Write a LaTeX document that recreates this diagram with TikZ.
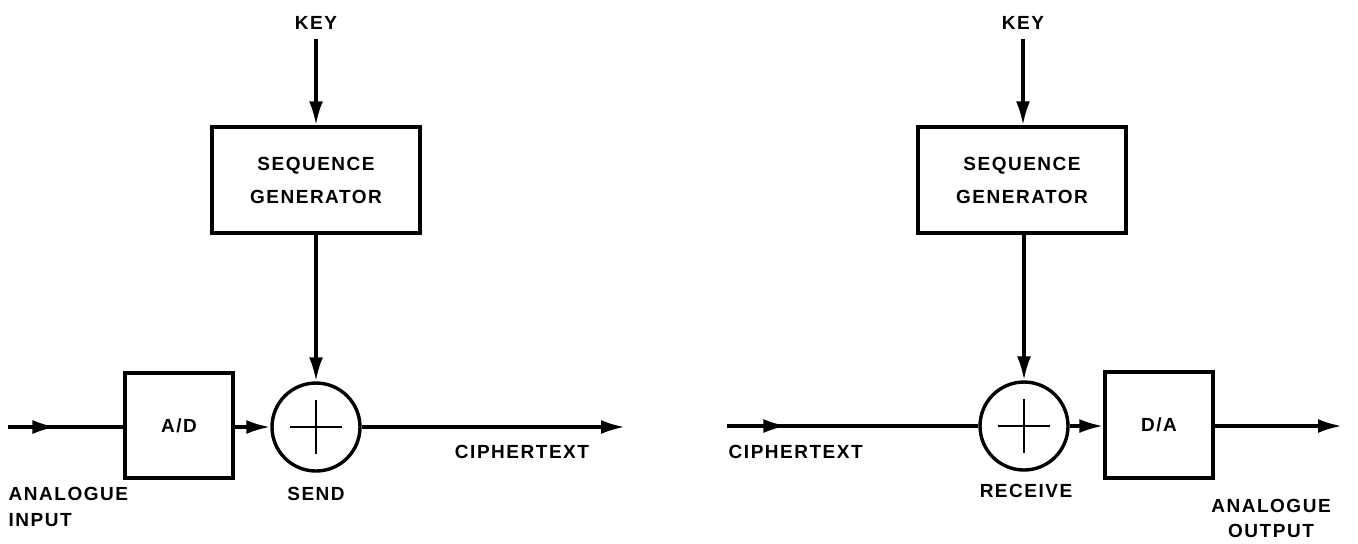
\documentclass[tikz,border=0pt]{standalone}
\usepackage{fontspec}
\setmainfont{Liberation Sans}[LetterSpace=8]
\usetikzlibrary{arrows.meta,decorations.markings}
\begin{document}
\begin{tikzpicture}[x=0.5pt,y=-0.5pt,
  line width=1.7pt,
  >={Latex[length=12pt,width=7pt]},
  box/.style={draw,rectangle,line width=1.7pt,inner sep=0pt,minimum width=#1},
  box/.default=104pt,
  sumnode/.style={draw,circle,minimum size=44pt,inner sep=0pt},
  lbl/.style={font=\fontsize{9.5}{13}\bfseries\selectfont,inner sep=0pt},
  boxlbl/.style={font=\fontsize{9.5}{16.5}\bfseries\selectfont,align=center},
  midarrow/.style={postaction={decorate},decoration={markings,mark=at position #1 with {\arrow{>}}}},
  cross/.style={line width=1.4pt},
]
\useasboundingbox (0,0) rectangle (1358,543);

% ---------- sender ----------
\node[lbl,anchor=base] (key1) at (316,29) {KEY};
\node[box,minimum height=53pt,boxlbl] (seq1) at (316,180) {SEQUENCE\\GENERATOR};
\node[sumnode] (sum1) at (316,427) {};
\draw[cross] ([xshift=-13pt]sum1.center) -- ([xshift=13pt]sum1.center)
             ([yshift=-13.5pt]sum1.center) -- ([yshift=13.5pt]sum1.center);
\node[box=54pt,minimum height=52.5pt,lbl] (ad) at (179,425.5) {A/D};
\coordinate (in1) at (8,427);
\coordinate (out1) at (625,427);

\draw[->,shorten <=4pt] (key1.south) -- (seq1.north);
\draw[->] (seq1.south) -- (sum1.north);
\draw[midarrow=0.42] (in1) -- (in1 -| ad.west);
\draw[->] (ad.east |- sum1.west) -- (sum1.west);
\draw[->] (sum1.east) -- (out1);

\node[lbl,anchor=base west] (ai1) at (7,500) {ANALOGUE};
\node[lbl,anchor=base west] (ai2) at (7,526) {INPUT};
\node[lbl,anchor=base] (send) at (316,500) {SEND};
\node[lbl,anchor=base] (ct1) at (522,458) {CIPHERTEXT};

% ---------- receiver ----------
\node[lbl,anchor=base] (key2) at (1023,29) {KEY};
\node[box,minimum height=53pt,boxlbl] (seq2) at (1022,180) {SEQUENCE\\GENERATOR};
\node[sumnode] (sum2) at (1024,426) {};
\draw[cross] ([xshift=-13pt]sum2.center) -- ([xshift=13pt]sum2.center)
             ([yshift=-13.5pt]sum2.center) -- ([yshift=13.5pt]sum2.center);
\node[box=54pt,minimum height=53pt,lbl] (da) at (1159,425) {D/A};
\coordinate (in2) at (727,426);
\coordinate (out2) at (1342,426);

\draw[->,shorten <=4pt] (key2.south) -- (key2.south |- seq2.north);
\draw[->] (seq2.south -| sum2.north) -- (sum2.north);
\draw[midarrow=0.24] (in2) -- (sum2.west);
\draw[->] (sum2.east) -- (sum2.east -| da.west);
\draw[->] (da.east |- out2) -- (out2);

\node[lbl,anchor=base west] (ct2) at (727,458) {CIPHERTEXT};
\node[lbl,anchor=base] (recv) at (1026,497) {RECEIVE};
\node[lbl,anchor=base] (ao1) at (1271,512) {ANALOGUE};
\node[lbl,anchor=base] (ao2) at (1271,537) {OUTPUT};
\end{tikzpicture}
\end{document}
